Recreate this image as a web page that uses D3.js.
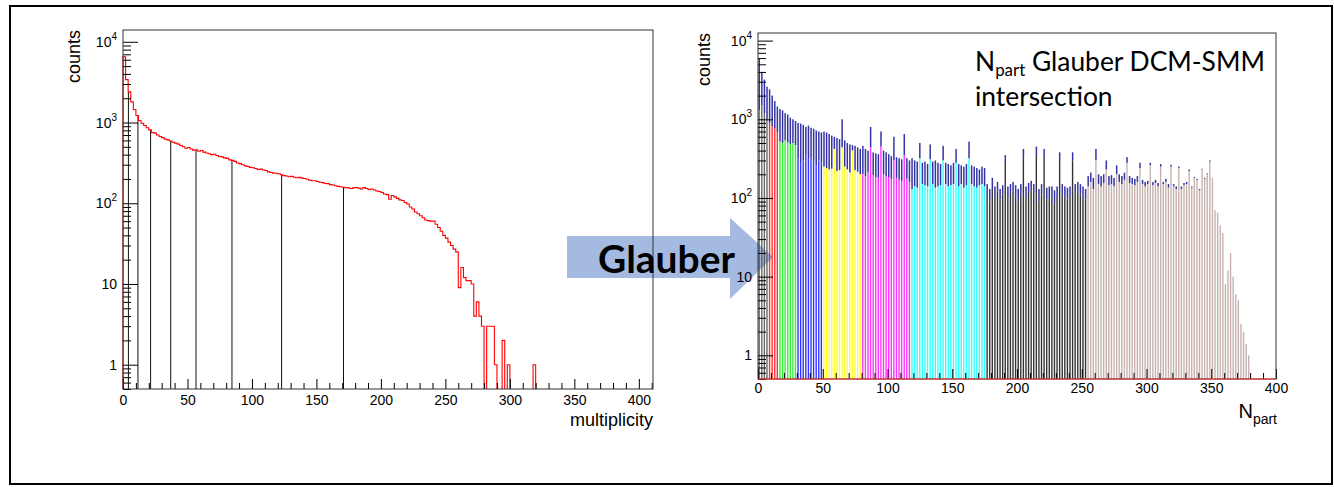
<!DOCTYPE html>
<html>
<head>
<meta charset="utf-8">
<script src="https://cdn.jsdelivr.net/npm/d3@7"></script>
<style>
body { margin: 0; background: #fff; }
svg { display: block; }
.ax text { font-family: "Liberation Sans", Arial, sans-serif; font-size: 14px; fill: #000; }
</style>
</head>
<body>
<svg id="fig" width="1334" height="487"></svg>
<script>
// left panel: multiplicity histogram, 2 units per bin starting at 0
const multBinWidth = 2;
const multCounts = [
    6500, 3400, 2400, 1800, 1450, 1220, 1060, 980, 920, 860,
    810, 750, 740, 700, 670, 650, 620, 610, 590, 570,
    555, 540, 520, 500, 480, 490, 470, 455, 460, 440,
    450, 430, 420, 410, 400, 405, 390, 380, 375, 365,
    360, 345, 340, 330, 315, 310, 300, 290, 285, 278,
    275, 270, 262, 265, 258, 255, 245, 240, 236, 235,
    232, 225, 220, 218, 213, 215, 210, 207, 209, 205,
    203, 198, 193, 190, 190, 186, 182, 180, 176, 175,
    170, 168, 165, 162, 160, 158, 156, 155, 152, 155,
    157, 154, 150, 156, 152, 148, 150, 146, 142, 140,
    136, 130, 128, 112, 125, 120, 115, 110, 108, 102,
    98, 90, 85, 78, 74, 70, 66, 62, 61, 60,
    60, 55, 50, 45, 40, 37, 33, 30, 27, 25,
    9, 16, 12, 11, 11, 10, 4, 6, 4, 3,
    0, 3, 3, 3, 1, 0, 0, 2, 0, 1,
    0, 0, 0, 0, 0, 0, 0, 0, 0, 1
];
const multCuts = [4.2, 11.6, 21.4, 37, 56.6, 84.5, 123, 171];

// right panel: Npart, 2 units per bin, one array per centrality class
const partBinWidth = 2;
const partEdges = [0, 8, 16, 30, 50, 80, 118, 176, 254, 380];
const partColors = ['#444444', '#ff0000', '#00ee00', '#0000ff', '#ffff00', '#ff00ff', '#00ffff', '#000000', '#b9a098'];

const greyClass = [1300, 1500, 1200, 1000];
const redClass = [900, 820, 760, 680];
const greenClass = [520, 500, 540, 510, 480, 500, 470];
const blueClass = [320, 280, 300, 350, 310, 330, 290, 260, 300, 280];
const yellowClass = [250, 240, 230, 235, 420, 220, 225, 440, 250, 230, 210, 400, 225, 215, 200];
const magentaClass = [200, 190, 210, 440, 195, 185, 180, 450, 200, 190, 185, 175, 300, 180, 170, 165, 350, 175, 160];
const cyanClass = [130, 140, 135, 320, 150, 145, 140, 310, 150, 135, 140, 145, 300, 150, 140, 145, 150, 280, 140, 150,
    135, 145, 320, 150, 140, 135, 145, 150, 140];
const blackClass = [110, 90, 130, 100, 120, 95, 110, 280, 100, 115, 120, 105, 90, 110, 330, 100, 120, 125, 115, 340,
    90, 110, 330, 95, 100, 100, 85, 100, 290, 110, 100, 95, 105, 300, 115, 120, 110, 100, 95];
const tanClass = [140, 160, 130, 300, 150, 140, 155, 230, 145, 150, 140, 200, 160, 150, 170, 280, 155, 150, 145, 160,
    240, 150, 140, 150, 260, 145, 155, 140, 250, 150, 160, 135, 250, 140, 130, 240, 130, 145, 150, 220,
    135, 180, 170, 125, 230, 175, 200, 290, 180, 70, 65, 45, 36, 8, 12, 20, 10, 6, 5, 2.5, 2, 1.4, 1];

// total Glauber Npart (navy) in the same bins
const greyTotal = [6000, 4000, 3200, 2600];
const redTotal = [2400, 2000, 1700, 1450];
const greenTotal = [1350, 1300, 1200, 1150, 1050, 1000, 950];
const blueTotal = [900, 880, 850, 800, 830, 780, 760, 720, 700, 680];
const yellowTotal = [700, 680, 650, 620, 600, 580, 560, 1000, 540, 500, 480, 470, 460, 440, 420];
const magentaTotal = [460, 420, 400, 800, 380, 370, 360, 700, 400, 380, 360, 340, 600, 330, 320, 310, 650, 320, 300];
const cyanTotal = [320, 300, 290, 500, 280, 290, 270, 480, 290, 300, 280, 270, 460, 280, 270, 260, 280, 420, 270, 260,
    250, 270, 520, 260, 250, 240, 230, 250, 240];
const blackTotal = [150, 130, 180, 140, 160, 130, 145, 350, 140, 150, 160, 145, 130, 150, 420, 140, 155, 165, 150, 450,
    130, 150, 420, 135, 140, 140, 125, 140, 380, 150, 140, 135, 140, 380, 150, 160, 150, 140, 130];
const tanTotal = [190, 210, 180, 420, 200, 190, 200, 300, 190, 195, 180, 260, 200, 190, 210, 330, 190, 180, 175, 190,
    280, 170, 160, 165, 280, 160, 170, 155, 270, 160, 175, 150, 265, 150, 140, 250, 140, 155, 160, 230,
    140, 185, 175, 130, 235, 180, 205, 300, 180, 70, 65, 45, 36, 8, 12, 20, 10, 6, 5, 2.5, 2, 1.4, 1];

const partClassCounts = [greyClass, redClass, greenClass, blueClass, yellowClass, magentaClass, cyanClass, blackClass, tanClass];
const partTotalCounts = [greyTotal, redTotal, greenTotal, blueTotal, yellowTotal, magentaTotal, cyanTotal, blackTotal, tanTotal];

const yMajor = [1, 10, 100, 1000, 10000];
const yMajorLabels = [['1', ''], ['10', ''], ['10', '2'], ['10', '3'], ['10', '4']];
const xMajor = [0, 50, 100, 150, 200, 250, 300, 350, 400];

const svg = d3.select('#fig');

// outer frame
svg.append('rect')
    .attr('x', 10).attr('y', 6).attr('width', 1322).attr('height', 478)
    .attr('fill', 'none').attr('stroke', '#000').attr('stroke-width', 2);

// arrow (drawn under the panels)
const arrowPts = [[567, 236], [730, 236], [730, 218], [773, 257], [730, 299], [730, 278], [567, 278]];
svg.append('polygon')
    .attr('points', arrowPts.map(p => p.join(',')).join(' '))
    .attr('fill', '#9fb6df').attr('fill-opacity', 0.95);

const yMinor = [];
for (let e = -1; e <= 4; e++) {
    for (let m = 2; m <= 9; m++) yMinor.push(m * Math.pow(10, e));
}

const drawAxes = (g, x, y, opts) => {
    const [left, right] = x.range();
    const [bottom, top] = y.range();

    const ax = g.append('g').attr('class', 'ax').attr('color', '#000');

    // log y ticks, inside the frame
    ax.append('g').attr('transform', `translate(${left},0)`)
        .call(d3.axisLeft(y).tickValues(yMajor).tickSize(-15).tickFormat(''))
        .call(s => s.select('.domain').remove());
    ax.append('g').attr('transform', `translate(${left},0)`)
        .call(d3.axisLeft(y).tickValues(yMinor.filter(v => v >= y.domain()[0] && v <= y.domain()[1])).tickSize(-8).tickFormat(''))
        .call(s => s.select('.domain').remove());

    yMajor.forEach((v, i) => {
        const t = ax.append('text')
            .attr('x', left - 6).attr('y', y(v)).attr('dy', '0.36em')
            .attr('text-anchor', 'end');
        t.append('tspan').text(yMajorLabels[i][0]);
        if (yMajorLabels[i][1]) {
            t.append('tspan').attr('dy', -7).attr('font-size', 10).text(yMajorLabels[i][1]);
        }
    });

    // x ticks, pointing up
    const xMax = x.domain()[1];
    ax.append('g').attr('transform', `translate(0,${bottom})`)
        .call(d3.axisBottom(x).tickValues(xMajor).tickSize(-10).tickPadding(opts.pad).tickFormat(d3.format('d')))
        .call(s => s.select('.domain').remove());
    ax.append('g').attr('transform', `translate(0,${bottom})`)
        .call(d3.axisBottom(x).tickValues(d3.range(0, xMax + 0.1, 10).filter(v => v % 50 != 0)).tickSize(-6).tickFormat(''))
        .call(s => s.select('.domain').remove());

    g.append('rect')
        .attr('x', left).attr('y', top)
        .attr('width', right - left).attr('height', bottom - top)
        .attr('fill', 'none').attr('stroke', '#333').attr('stroke-width', 1);
};

const axisFont = '"Liberation Sans", Arial, sans-serif';

// ---------------- left panel ----------------
const xL = d3.scaleLinear([0, 411], [123, 653]);
const yL = d3.scaleLog([0.5, 14000], [389, 30]);
const gL = svg.append('g');
const bottomL = yL.range()[0];

// class boundaries
gL.selectAll('line.cut')
    .data(multCuts)
    .join('line')
    .attr('class', 'cut')
    .attr('x1', d => xL(d)).attr('x2', d => xL(d))
    .attr('y1', bottomL)
    .attr('y2', d => yL(Math.max(multCounts[Math.floor(d / multBinWidth)], 0.5)))
    .attr('stroke', '#111').attr('stroke-width', 1);

// histogram as step outline, split where bins are empty
const pieces = [];
let cur = null;
multCounts.forEach((v, i) => {
    if (v > 0) {
        if (!cur) { cur = [[xL(i * multBinWidth), bottomL]]; pieces.push(cur); }
        cur.push([xL(i * multBinWidth), yL(v)], [xL((i + 1) * multBinWidth), yL(v)]);
    } else if (cur) {
        cur.push([xL(i * multBinWidth), bottomL]);
        cur = null;
    }
});
if (cur) cur.push([cur[cur.length - 1][0], bottomL]);

gL.selectAll('path.hist')
    .data(pieces)
    .join('path')
    .attr('class', 'hist')
    .attr('d', d3.line())
    .attr('fill', 'none').attr('stroke', '#ff0000').attr('stroke-width', 1.1);

drawAxes(gL, xL, yL, {pad: 6});

gL.append('text')
    .attr('transform', 'translate(80,30) rotate(-90)')
    .attr('text-anchor', 'end')
    .attr('font-family', axisFont).attr('font-size', 18)
    .text('counts');

gL.append('text')
    .attr('x', 653).attr('y', 426)
    .attr('text-anchor', 'end')
    .attr('font-family', axisFont).attr('font-size', 18)
    .text('multiplicity');

// ---------------- right panel ----------------
const xR = d3.scaleLinear([0, 400], [758, 1276]);
const yR = d3.scaleLog([0.5, 12500], [379, 33]);
const gR = svg.append('g');
const bottomR = yR.range()[0];
const bwR = xR(partBinWidth) - xR(0);

const bins = [];
partClassCounts.forEach((arr, k) => {
    arr.forEach((v, j) => {
        bins.push({
            lo: partEdges[k] + j * partBinWidth,
            v: v,
            tot: partTotalCounts[k][j],
            color: partColors[k]
        });
    });
});

// navy part of the total above each class bar
gR.selectAll('rect.tot')
    .data(bins.filter(d => d.tot > d.v))
    .join('rect')
    .attr('class', 'tot')
    .attr('x', d => xR(d.lo) + 0.5)
    .attr('width', bwR - 1.1)
    .attr('y', d => yR(d.tot))
    .attr('height', d => yR(d.v) - yR(d.tot))
    .attr('fill', '#00008f').attr('fill-opacity', 0.8);

gR.selectAll('rect.cls')
    .data(bins)
    .join('rect')
    .attr('class', 'cls')
    .attr('x', d => xR(d.lo) + 0.5)
    .attr('width', bwR - 1.2)
    .attr('y', d => yR(Math.max(d.v, 0.5)))
    .attr('height', d => bottomR - yR(Math.max(d.v, 0.5)))
    .attr('fill', d => d.color).attr('fill-opacity', 0.8);

drawAxes(gR, xR, yR, {pad: 4.5});

gR.append('line')
    .attr('x1', xR(0)).attr('x2', xR(400))
    .attr('y1', bottomR).attr('y2', bottomR)
    .attr('stroke', '#ff3030').attr('stroke-width', 1);

gR.append('text')
    .attr('transform', 'translate(710,33) rotate(-90)')
    .attr('text-anchor', 'end')
    .attr('font-family', axisFont).attr('font-size', 18)
    .text('counts');

const npLabel = gR.append('text')
    .attr('x', 1277).attr('y', 418)
    .attr('text-anchor', 'end')
    .attr('font-family', axisFont).attr('font-size', 20);
npLabel.append('tspan').text('N');
npLabel.append('tspan').attr('font-size', 14).attr('dy', 6).text('part');

// annotation text
const fitText = (sel, target) => {
    const w = sel.node().getComputedTextLength();
    const fs = parseFloat(sel.attr('font-size'));
    sel.attr('font-size', fs * target / w);
    return fs * target / w;
};

const note = svg.append('text')
    .attr('x', 975).attr('y', 71)
    .attr('font-family', 'Lato, "Open Sans", sans-serif').attr('font-size', 25).attr('fill', '#000');
note.append('tspan').text('N');
note.append('tspan').attr('font-size', '0.64em').attr('dy', '0.3em').text('part');
note.append('tspan').attr('dy', '-0.19em').text(' Glauber DCM-SMM');
const noteSize = fitText(note, 290);

svg.append('text')
    .attr('x', 975).attr('y', 106)
    .attr('font-family', 'Lato, "Open Sans", sans-serif').attr('font-size', noteSize).attr('fill', '#000')
    .text('intersection');

const glauber = svg.append('text')
    .attr('x', 598).attr('y', 273)
    .attr('font-family', 'Lato, "Open Sans", sans-serif').attr('font-weight', 700)
    .attr('font-size', 36).attr('fill', '#000')
    .text('Glauber');
fitText(glauber, 137);
</script>
</body>
</html>
